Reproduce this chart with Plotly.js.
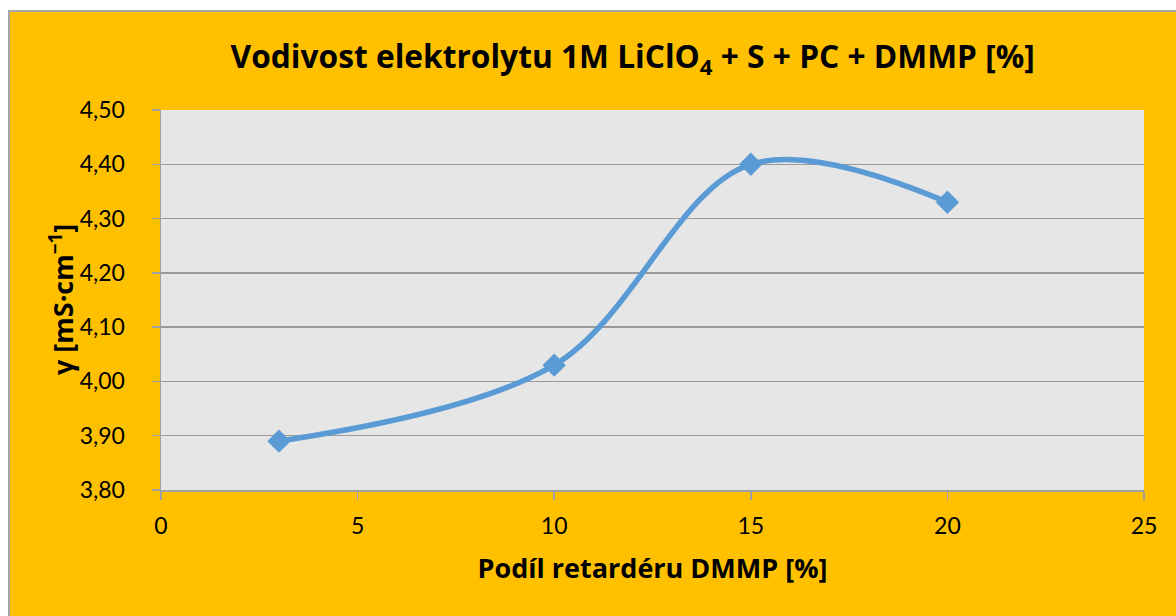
<!DOCTYPE html>
<html>
<head>
<meta charset="utf-8">
<script src="https://cdn.plot.ly/plotly-3.0.1.min.js"></script>
<style>
html,body{margin:0;padding:0;background:#ffffff;width:1176px;height:616px;overflow:hidden;}
#chart{position:absolute;left:8px;top:10px;width:1166px;height:604px;border-left:2px solid #a6a6a6;border-top:2px solid #a6a6a6;background:#FFC000;}
</style>
</head>
<body>
<div id="chart"></div>
<script>
const dmmp = [3, 10, 15, 20];
const conductivity = [3.89, 4.03, 4.40, 4.33];
const xTicks = [0, 5, 10, 15, 20, 25];
const yTicks = [3.80, 3.90, 4.00, 4.10, 4.20, 4.30, 4.40, 4.50];

const FONT = 'Lato, "Open Sans", sans-serif';
const BOLD = '"Open Sans", Lato, sans-serif';

const trace = {
  x: dmmp,
  y: conductivity,
  type: 'scatter',
  mode: 'lines+markers',
  line: {color: '#5B9BD5', width: 5.5, shape: 'spline', smoothing: 1},
  marker: {symbol: 'diamond', size: 18, color: '#5B9BD5'},
  hoverinfo: 'skip'
};

const layout = {
  width: 1166,
  height: 604,
  margin: {l: 151, r: 32, t: 98, b: 126},
  paper_bgcolor: '#FFC000',
  plot_bgcolor: '#E6E6E6',
  separators: ',.',
  showlegend: false,
  font: {family: FONT, color: '#000000', size: 23},
  title: {
    text: '<b>Vodivost elektrolytu 1M LiClO<sub>4</sub> + S + PC + DMMP [%]</b>',
    font: {family: BOLD, size: 31.7, color: '#000000'},
    x: 0.534, xanchor: 'center',
    y: 0.925, yanchor: 'middle'
  },
  xaxis: {
    range: [0, 25],
    tickvals: xTicks,
    ticktext: xTicks.map(String),
    showgrid: false,
    zeroline: false,
    showline: true,
    linecolor: '#a0a0a0',
    linewidth: 1.5,
    ticks: 'outside',
    ticklen: 8,
    tickcolor: '#a0a0a0',
    tickwidth: 1.5,
    ticklabelstandoff: 7,
    tickfont: {family: FONT, size: 23},
    title: {text: '<b>Podíl retardéru DMMP [%]</b>', font: {family: BOLD, size: 27}, standoff: 21}
  },
  yaxis: {
    range: [3.80, 4.50],
    tickvals: yTicks,
    tickformat: '.2f',
    showgrid: true,
    gridcolor: '#9a9a9a',
    gridwidth: 1.3,
    zeroline: false,
    showline: true,
    linecolor: '#a0a0a0',
    linewidth: 1.5,
    ticks: 'outside',
    ticklen: 8,
    tickcolor: '#a0a0a0',
    tickwidth: 1.5,
    ticklabelstandoff: 22,
    tickfont: {family: FONT, size: 23}
  },
  annotations: [{
    text: '<b>γ [mS·cm<sup>−1</sup>]</b>',
    font: {family: BOLD, size: 27, color: '#000000'},
    textangle: -90,
    xref: 'paper', yref: 'paper',
    x: -0.1017, y: 0.5,
    xanchor: 'center', yanchor: 'middle',
    showarrow: false
  }]
};

Plotly.newPlot('chart', [trace], layout, {displayModeBar: false, staticPlot: true});
</script>
</body>
</html>
